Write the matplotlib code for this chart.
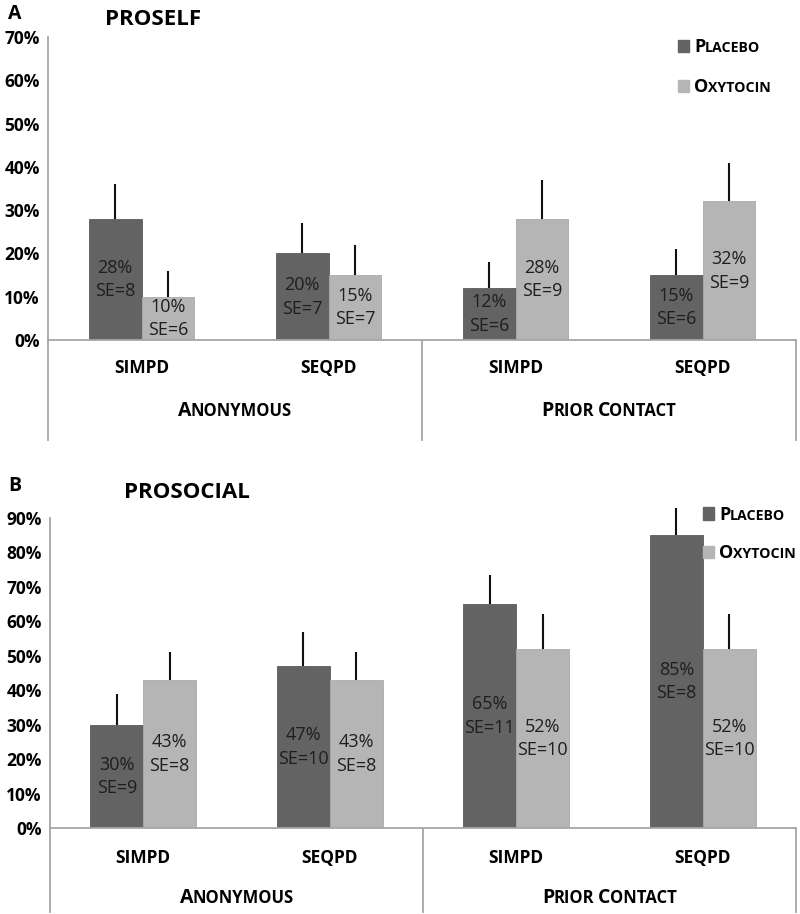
import matplotlib
matplotlib.use("Agg")
import matplotlib.pyplot as plt
from matplotlib.transforms import ScaledTranslation, blended_transform_factory
from matplotlib.patches import Rectangle
from matplotlib.ticker import FuncFormatter
import numpy as np

plt.rcParams['font.family'] = ['Open Sans', 'DejaVu Sans']

# categories
conditions = ["simpd", "seqpd", "simpd", "seqpd"]
groups = ["Anonymous", "Prior Contact"]
series = ["Placebo", "Oxytocin"]

# panel A - proself (percent)
proself_placebo = [28, 20, 12, 15]
proself_oxytocin = [10, 15, 28, 32]
proself_placebo_se = [8, 7, 6, 6]
proself_oxytocin_se = [6, 7, 9, 9]

# panel B - prosocial (percent)
prosocial_placebo = [30, 47, 65, 85]
prosocial_oxytocin = [43, 43, 52, 52]
prosocial_placebo_se = [9, 10, 11, 8]
prosocial_oxytocin_se = [8, 8, 10, 10]
# error bars as drawn (the 65% one is shorter than its printed SE)
prosocial_placebo_err = [9, 10, 8.5, 8]

DARK = '#636363'
LIGHT = '#b5b5b5'
SPINE = '#a6a6a6'
TXT = '#1e1e1e'


def smallcaps(ax, x, y, s, big, small, transform, ha='center', **kw):
    # uppercase letters big, lowercase drawn as smaller capitals
    fig = ax.figure
    r = fig.canvas.get_renderer()
    arts = []
    pos = 0.0
    for wi, word in enumerate(s.split(' ')):
        if wi > 0:
            pos += small * 0.3 * fig.dpi / 72.0
        runs = []
        for ch in word:
            size = big if ch.isupper() else small
            if runs and runs[-1][1] == size:
                runs[-1][0] += ch
            else:
                runs.append([ch, size])
        for txt, size in runs:
            t = ax.text(x, y, txt.upper(), fontsize=size, transform=transform,
                        ha='left', va='baseline', **kw)
            w = t.get_window_extent(r).width
            arts.append((t, pos))
            pos += w - 0.8
    total = pos + 0.8
    start = -total / 2 if ha == 'center' else 0.0
    for t, p in arts:
        t.set_transform(transform + ScaledTranslation((start + p) / fig.dpi, 0,
                                                      fig.dpi_scale_trans))


def panel(ax, placebo, oxy, placebo_se, oxy_se, placebo_err, oxy_err, ymax,
          cond_y, group_y, line_bottom, leg):
    x = np.arange(len(conditions))
    w = 0.283
    b1 = ax.bar(x - w / 2, placebo, w, color=DARK, edgecolor='#5a5a5a', lw=0.6)
    b2 = ax.bar(x + w / 2, oxy, w, color=LIGHT, edgecolor='#aaaaaa', lw=0.6)
    for xs, vals, err in ((x - w / 2, placebo, placebo_err), (x + w / 2, oxy, oxy_err)):
        eb = ax.errorbar(xs, vals, yerr=[np.zeros(4), err], fmt='none',
                         ecolor='#111111', elinewidth=1.5, capsize=0)
        for coll in eb.lines[2]:
            coll.set_clip_on(False)
    for bars, vals, ses in ((b1, placebo, placebo_se), (b2, oxy, oxy_se)):
        for bar, v, se in zip(bars, vals, ses):
            ax.text(bar.get_x() + bar.get_width() / 2, v / 2, f"{v}%\nSE={se}",
                    ha='center', va='center', fontsize=13, color=TXT,
                    linespacing=1.4)

    ax.set_xlim(-0.5, 3.5)
    ax.set_ylim(0, ymax)
    ax.set_yticks(np.arange(0, ymax + 1, 10))
    ax.yaxis.set_major_formatter(FuncFormatter(lambda v, p: f"{v:.0f}%"))
    ax.tick_params(axis='y', length=0, pad=6, labelsize=12.5)
    for lab in ax.get_yticklabels():
        lab.set_fontweight('bold')
    ax.set_xticks([])
    for s in ('top', 'right'):
        ax.spines[s].set_visible(False)
    for s in ('left', 'bottom'):
        ax.spines[s].set_color(SPINE)
        ax.spines[s].set_linewidth(1.3)

    # category box under the axis
    bt = blended_transform_factory(ax.transData, ax.transAxes)
    for xv in (-0.5, 1.5, 3.5):
        ax.plot([xv, xv], [0, line_bottom], transform=bt, color=SPINE, lw=1.3,
                clip_on=False)
    for xi, c in zip(x, conditions):
        smallcaps(ax, xi, cond_y, c, 13, 12.5, bt, fontweight='bold')
    for gi, g in enumerate(groups):
        smallcaps(ax, 2 * gi + 0.5, group_y, g, 14, 12, bt, fontweight='bold')

    # legend
    sx, tx, ys = leg
    for (yb, ytxt), col, name in zip(ys, (DARK, LIGHT), series):
        ax.add_patch(Rectangle((sx, yb), 0.0145, 0.04, transform=ax.transAxes,
                               color=col, clip_on=False))
        smallcaps(ax, tx, ytxt, name, 13, 10.2, ax.transAxes, ha='left',
                  fontweight='bold')


fig = plt.figure(figsize=(8, 9.14), dpi=100)
axA = fig.add_axes([0.06, 0.628, 0.935, 0.3315])
axB = fig.add_axes([0.0625, 0.0941, 0.9325, 0.3392])
fig.canvas.draw()

panel(axA, proself_placebo, proself_oxytocin, proself_placebo_se,
      proself_oxytocin_se, proself_placebo_se, proself_oxytocin_se, 70,
      -0.109, -0.251, -0.33,
      (0.842, 0.864, [(0.950, 0.950), (0.818, 0.818)]))
panel(axB, prosocial_placebo, prosocial_oxytocin, prosocial_placebo_se,
      prosocial_oxytocin_se, prosocial_placebo_err, prosocial_oxytocin_se, 90,
      -0.113, -0.242, -0.271,
      (0.875, 0.897, [(0.994, 0.994), (0.871, 0.871)]))

fig.text(0.019, 0.985, "A", fontsize=14, fontweight='bold', ha='center', va='center')
fig.text(0.191, 0.979, "PROSELF", fontsize=16, fontweight='bold', ha='center', va='center')
fig.text(0.019, 0.468, "B", fontsize=14, fontweight='bold', ha='center', va='center')
fig.text(0.234, 0.461, "PROSOCIAL", fontsize=16, fontweight='bold', ha='center', va='center')

fig.savefig("out.png", dpi=100, facecolor='white')
